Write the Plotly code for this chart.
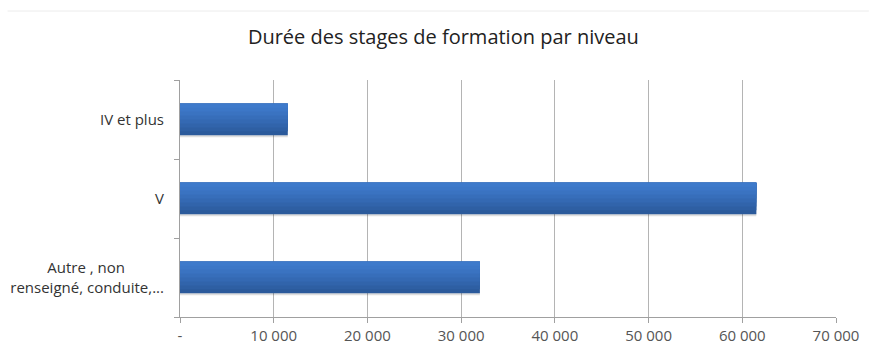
import plotly.graph_objects as go

# Training-placement duration by level (first line of the long label padded so the two lines sit centred)
niveaux = ["Autre , non" + "\u00a0" * 10 + "<br>renseigné, conduite,...", "V", "IV et plus"]
duree = [32000, 61500, 11500]

x_ticks = [0, 10000, 20000, 30000, 40000, 50000, 60000, 70000]
x_tick_labels = ["-", "10 000", "20 000", "30 000", "40 000", "50 000", "60 000", "70 000"]

# vertical shading of each bar, from bottom (dark) to top (light)
shades = ["#2b5a9b", "#2e5fa3", "#3164ab", "#3469b3", "#376eba", "#3a73c1", "#3c77c7", "#3e7acb"]

BAR_H = 0.4
fig = go.Figure()

# soft drop shadow under each bar
fig.add_trace(go.Bar(
    y=niveaux, x=duree, orientation="h",
    width=BAR_H, offset=-BAR_H / 2 - 0.025,
    marker=dict(color="rgba(0,0,0,0.13)", line=dict(width=0)),
    hoverinfo="skip", showlegend=False,
))

n = len(shades)
for i, c in enumerate(shades):
    cut = BAR_H * i / n
    fig.add_trace(go.Bar(
        y=niveaux, x=duree, orientation="h",
        width=BAR_H - cut, offset=-BAR_H / 2 + cut,
        marker=dict(color=c, line=dict(width=0)),
        showlegend=False,
    ))

W, H = 871, 358
ML, MR, MT, MB = 180, 33, 80, 41
pw, ph = W - ML - MR, H - MT - MB

fig.update_layout(
    width=W, height=H,
    barmode="overlay",
    paper_bgcolor="white", plot_bgcolor="white",
    margin=dict(l=ML, r=MR, t=MT, b=MB),
    font=dict(family="Open Sans", size=15, color="#333333"),
    title=dict(
        text="Durée des stages de formation par niveau",
        x=0.509, xanchor="center", y=1 - 37 / H, yanchor="middle",
        font=dict(family="Open Sans", size=20, color="#222222"),
    ),
    # thin rule along the top of the chart frame
    shapes=[dict(
        type="line", xref="paper", yref="paper",
        x0=(7 - ML) / pw, x1=(W - ML) / pw,
        y0=(H - MB - 11) / ph, y1=(H - MB - 11) / ph,
        line=dict(color="#ececec", width=1),
    )],
)

fig.update_xaxes(
    range=[0, 70000],
    tickvals=x_ticks, ticktext=x_tick_labels,
    showgrid=True, gridcolor="#b4b4b4", gridwidth=1,
    showline=True, linecolor="#a0a0a0", linewidth=1,
    ticks="outside", ticklen=5, tickcolor="#a0a0a0",
    tickfont=dict(size=15, color="#555555"),
    zeroline=False, fixedrange=True,
)
fig.update_yaxes(
    showgrid=False,
    showline=True, linecolor="#a0a0a0", linewidth=1,
    ticks="outside", ticklen=5, tickcolor="#a0a0a0",
    tickson="boundaries", ticklabelstandoff=12,
    tickfont=dict(size=15, color="#333333"),
    automargin=False, fixedrange=True,
)

fig.write_html("out.html")
